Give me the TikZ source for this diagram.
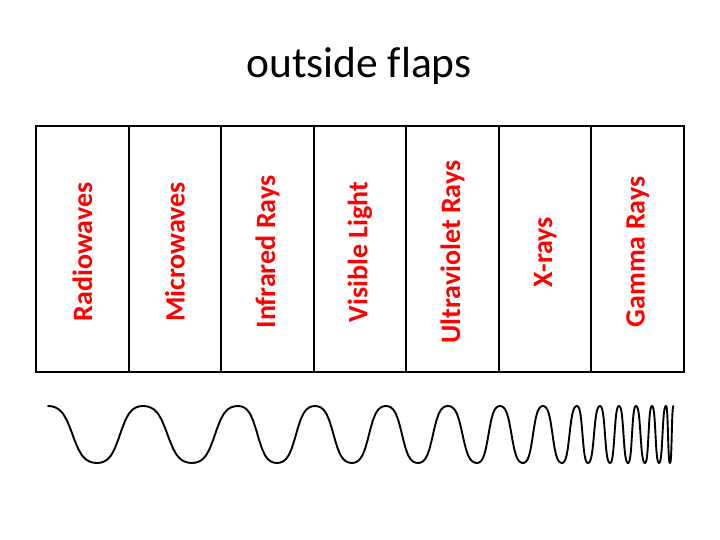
\documentclass[tikz,border=0pt]{standalone}
\usepackage{fontspec}
\setmainfont{Carlito}[Ligatures=CommonOff]
\begin{document}
\begin{tikzpicture}[x=1pt,y=1pt,
  frame/.style={draw=black,line width=2pt},
  label/.style={text=red,font=\fontsize{28}{30}\selectfont\bfseries,rotate=90,inner sep=0pt},
  wave/.style={draw=black,line width=1.9pt,line join=round,line cap=round}]
\useasboundingbox (0,0) rectangle (720,540);
% title
\node[anchor=base,inner sep=0pt,font=\fontsize{43.5}{48}\selectfont] (title) at (359,462) {outside flaps};
% frame
\draw[frame] (36,168) rectangle (684,414);
\foreach \i in {1,...,6} {
  \draw[frame] ({36+\i*92.571},168) -- ({36+\i*92.571},414);
}
% labels
\foreach \i/\t in {0/Radiowaves,1/Microwaves,2/Infrared Rays,3/Visible Light,4/Ultraviolet Rays,5/X-rays,6/Gamma Rays} {
  \node[label] (lab\i) at ({36+(\i+0.5)*92.571},288) {\t};
}
% wave
\draw[wave] (48,134) \foreach \a/\b/\s in {
  48/97/1, 97/143/-1, 143/192/1, 192/238/-1, 238/277/1, 277/315/-1, 315/352/1, 352/386/-1,
  386/418/1, 418/448/-1, 448/477/1, 477/500/-1, 500/523/1, 523/543/-1, 543/562/1, 562/577/-1,
  577/588/1, 588/600/-1, 600/610/1, 610/619/-1, 619/628/1, 628/636/-1, 636/645/1, 645/652/-1,
  652/659/1, 659/666/-1, 666/670/1, 670/673.5/-1} {
  -- plot[domain=\a:\b,samples=14,variable=\t] ({\t},{105.5+\s*28.5*tanh(1.3*cos(180*(\t-\a)/(\b-\a)))/tanh(1.3)})
};
\end{tikzpicture}
\end{document}
